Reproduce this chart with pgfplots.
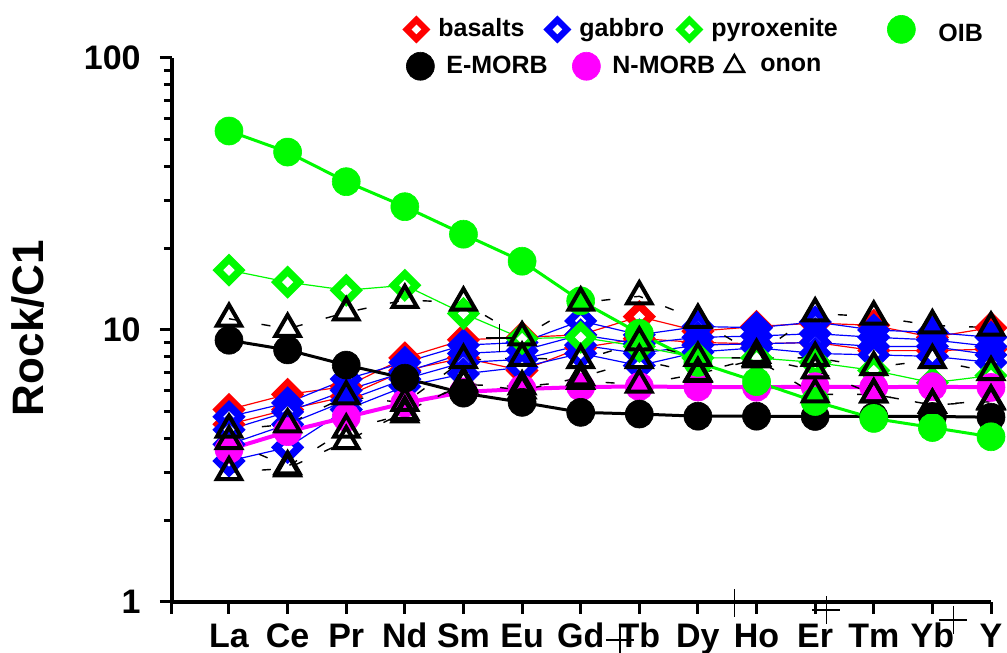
\documentclass[border=0pt]{standalone}
\usepackage{fontspec}
\setmainfont{Liberation Sans}
\usepackage{pgfplots}
\usepackage{pgfplotstable}
\pgfplotsset{compat=1.18}
\definecolor{cred}{RGB}{255,0,0}
\definecolor{cblue}{RGB}{0,0,255}
\definecolor{cgreen}{RGB}{0,250,0}
\definecolor{cmag}{RGB}{255,0,255}

\pgfdeclareplotmark{thickdia}{%
  \pgfpathmoveto{\pgfqpoint{0pt}{\pgfplotmarksize}}%
  \pgfpathlineto{\pgfqpoint{\pgfplotmarksize}{0pt}}%
  \pgfpathlineto{\pgfqpoint{0pt}{-\pgfplotmarksize}}%
  \pgfpathlineto{\pgfqpoint{-\pgfplotmarksize}{0pt}}%
  \pgfpathclose
  \pgfusepathqfill
  \pgfscope
  \pgfsetfillcolor{white}%
  \pgfpathmoveto{\pgfqpoint{0pt}{0.34\pgfplotmarksize}}%
  \pgfpathlineto{\pgfqpoint{0.34\pgfplotmarksize}{0pt}}%
  \pgfpathlineto{\pgfqpoint{0pt}{-0.34\pgfplotmarksize}}%
  \pgfpathlineto{\pgfqpoint{-0.34\pgfplotmarksize}{0pt}}%
  \pgfpathclose
  \pgfusepathqfill
  \endpgfscope
}

\pgfplotstableread{
x OIB EM NM B1 B2 G1 G2 G3 G4 P O1 O2 O3 O4
1 53.9 9.17 3.64 5.1 4.5 4.8 4.3 3.8 3.3 16.6 11.0 4.3 3.9 3.0
2 45.1 8.45 4.23 5.8 5.1 5.4 5.0 4.5 3.7 15.0 10.1 4.5 3.15 3.1
3 35.1 7.43 4.78 6.2 5.7 6.6 6.0 5.5 5.1 14.0 11.6 5.7 4.3 3.9
4 28.4 6.65 5.39 7.9 7.1 7.6 7.0 6.6 6.2 14.6 12.9 5.4 4.9 5.0
5 22.5 5.86 5.92 9.2 7.9 8.8 8.2 7.6 6.9 11.5 12.6 7.75 6.4 6.3
6 17.9 5.42 6.07 9.4 7.1 9.0 8.4 7.8 7.3 9.3 9.4 7.9 6.0 6.2
7 12.8 4.98 6.17 9.6 8.6 10.8 9.6 8.8 8.2 9.4 12.6 7.75 6.7 6.5
8 9.72 4.91 6.20 11.2 9.3 9.6 8.9 8.2 7.4 8.7 13.3 9.0 7.75 6.3
9 7.60 4.82 6.17 9.9 9.0 10.3 9.4 8.8 8.3 7.9 10.9 7.9 6.95 6.9
10 6.46 4.82 6.16 10.3 8.9 10.2 9.5 8.9 8.6 7.9 8.1 7.9 7.9 7.8
11 5.46 4.81 6.19 10.6 9.0 10.7 9.7 9.0 8.2 7.6 11.5 7.9 7.1 5.8
12 4.73 4.81 6.16 10.4 8.4 10.0 9.4 8.7 8.1 7.1 11.2 7.3 5.8 5.8
13 4.38 4.81 6.19 9.4 8.4 9.8 9.2 8.7 8.0 6.4 10.4 7.75 5.3 5.3
14 4.05 4.78 6.15 10.2 8.5 9.4 8.7 8.1 7.6 6.8 10.2 7.0 5.45 5.5
}\data

\pgfplotstableread{
x y
5.62 9.35
7.67 0.725
9.63 0.99
11.19 0.934
13.36 0.859
}\crosses

\pgfplotsset{
  dia/.style={#1, line width=0.6pt, mark=thickdia, mark size=8.3pt,
    mark options={solid, fill=#1}},
  circ/.style={#1, mark=*, mark size=7pt, mark options={solid, fill=#1, draw=#1, line width=0.3pt}},
  tri/.style={black, line width=0.7pt, dash pattern=on 4.5pt off 12pt, mark=triangle, mark size=7pt,
    mark options={solid, line width=2pt, draw=black}},
  legimg/.style={legend image code/.code={\path[draw=none, fill=none] (-7pt,-7pt) rectangle (7pt,7pt); \draw[##1] plot coordinates {(0pt,0pt)};}},
}

\begin{document}
\begin{tikzpicture}
\begin{axis}[
  at={(0,0)}, anchor=south west,
  scale only axis, width=409.5pt, height=272pt,
  ymode=log, xmin=0.0276, xmax=14, ymin=1, ymax=100,
  clip=false,
  axis x line*=bottom, axis y line*=left,
  axis line style={line width=2pt},
  xtick={1,...,14},
  xticklabels={La,Ce,Pr,Nd,Sm,Eu,Gd,Tb,Dy,Ho,Er,Tm,Yb,Y},
  extra x ticks={0.0276}, extra x tick labels={},
  ytick={1,10,100}, yticklabels={1,10,100},
  minor ytick={2,3,4,5,6,7,8,9,20,30,40,50,60,70,80,90},
  tick align=outside,
  major tick length=6pt, minor tick length=4pt,
  tick style={line width=1.5pt, black},
  /pgf/number format/assume math mode=true,
  ticklabel style={font=\fontsize{17pt}{20pt}\selectfont\bfseries},
  xticklabel style={anchor=base, inner sep=0pt, yshift=-17pt},
  yticklabel style={anchor=east, inner sep=0pt, xshift=-9.5pt},
  ylabel={Rock/C1},
  every axis y label/.style={at={(axis description cs:-0.1758,0.5037)}, rotate=90, anchor=center,
     font=\fontsize{22pt}{26pt}\selectfont\bfseries},
  legimg,
  legend columns=-1,
  legend style={draw=none, fill=none, inner sep=0pt, at={(0.2808,1.0526)}, anchor=west,
    font=\fontsize{12.5pt}{14pt}\selectfont\bfseries,
    nodes={inner sep=0pt},
    /tikz/every odd column/.append style={column sep=4pt}},
]
\addlegendimage{dia=cred, mark size=7pt, only marks}
\addlegendentry{\makebox[52.5pt][l]{basalts}}
\addlegendimage{dia=cblue, mark size=7pt, only marks}
\addlegendentry{\makebox[48pt][l]{gabbro}}
\addlegendimage{dia=cgreen, mark size=7pt, only marks}
\addlegendentry{\makebox[88pt][l]{pyroxenite}}
\addlegendimage{circ=cgreen, only marks}
\addlegendentry{\hspace{7.5pt}\raisebox{-5pt}{OIB}}

\addplot[dia=cred, forget plot] table[x=x, y=B1] {\data};
\addplot[dia=cred, forget plot] table[x=x, y=B2] {\data};
\addplot[dia=cblue, forget plot] table[x=x, y=G1] {\data};
\addplot[dia=cblue, forget plot] table[x=x, y=G2] {\data};
\addplot[dia=cblue, forget plot] table[x=x, y=G3] {\data};
\addplot[dia=cblue, forget plot] table[x=x, y=G4] {\data};
\addplot[dia=cgreen, forget plot] table[x=x, y=P] {\data};
\addplot[circ=cmag, line width=2pt, forget plot] table[x=x, y=NM] {\data};
\addplot[circ=black, line width=1.5pt, forget plot] table[x=x, y=EM] {\data};
\addplot[circ=cgreen, line width=1.5pt, forget plot] table[x=x, y=OIB] {\data};
\addplot[tri, forget plot] table[x=x, y=O1] {\data};
\addplot[tri, forget plot] table[x=x, y=O2] {\data};
\addplot[tri, forget plot] table[x=x, y=O3] {\data};
\addplot[tri, forget plot] table[x=x, y=O4] {\data};
\addplot[only marks, mark=+, mark size=7pt, mark options={line width=0.6pt, black}, forget plot] table[x=x, y=y] {\crosses};
\end{axis}

\begin{axis}[
  at={(0,0)}, anchor=south west,
  scale only axis, width=409.5pt, height=272pt,
  hide axis, xmin=0, xmax=1, ymin=0, ymax=1,
  legimg,
  legend columns=-1,
  legend style={draw=none, fill=none, inner sep=0pt, at={(0.2857,0.9848)}, anchor=west,
    font=\fontsize{12.5pt}{14pt}\selectfont\bfseries,
    nodes={inner sep=0pt},
    /tikz/every odd column/.append style={column sep=6pt}},
]
\addplot[draw=none, forget plot] coordinates {(0.5,0.5)};
\addlegendimage{circ=black, only marks}
\addlegendentry{\makebox[63pt][l]{E-MORB}}
\addlegendimage{circ=cmag, only marks}
\addlegendentry{\makebox[54pt][l]{N-MORB}}
\addlegendimage{only marks, mark=triangle, mark size=5.6pt, mark options={line width=1.2pt, black}}
\addlegendentry{onon}
\end{axis}
\pgfresetboundingbox
\path (-86pt,-25.5pt) rectangle (417.5pt,301pt);
\end{tikzpicture}
\end{document}
